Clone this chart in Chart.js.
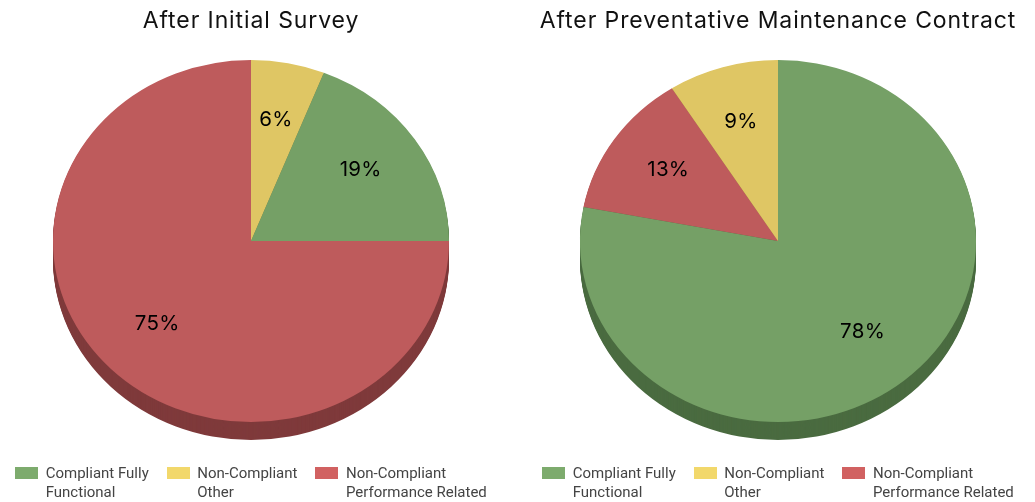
<!DOCTYPE html>
<html><head><meta charset="utf-8">
<script src="https://cdn.jsdelivr.net/npm/chart.js@4.4.1/dist/chart.umd.min.js"></script>
<style>
html,body{margin:0;padding:0;background:#fff;}
#wrap{position:relative;width:1035px;height:502px;overflow:hidden;}
.box{position:absolute;top:0;width:502px;height:502px;}
.legend{position:absolute;left:0;top:463.5px;width:502px;display:flex;justify-content:center;gap:18px;
  font-family:Roboto,sans-serif;font-size:15px;line-height:19.5px;color:#444;}
.item{display:flex;align-items:flex-start;}
.swatch{width:23px;height:12px;margin-top:3px;margin-right:7.5px;flex:none;}
</style></head><body>
<div id="wrap">
<div class="box" style="left:0"><canvas id="c1"></canvas><div class="legend" id="l1"></div></div>
<div class="box" style="left:527px"><canvas id="c2"></canvas><div class="legend" id="l2"></div></div>
</div>
<script>
// ---- data ----
const categories = ['Compliant Fully Functional', 'Non-Compliant Other', 'Non-Compliant Performance Related'];
const legendLines = [['Compliant Fully', 'Functional'], ['Non-Compliant', 'Other'], ['Non-Compliant', 'Performance Related']];
const initialSurvey = [19, 6, 75];
const afterContract = [78, 9, 13];
const chartTitles = ['After Initial Survey', 'After Preventative Maintenance Contract'];

// ---- styles ----
const faceColors = ['#75A066', '#DFC664', '#BE5B5C'];
const sideColors = ['#4A6B40', '#9A8840', '#7F3A3B'];
const legendColors = ['#7DAB6D', '#F2D86B', '#D16161'];

// slices are drawn in reverse category order (clockwise)
const order = [2, 1, 0];

const spacing = {
  id: 'spacing',
  beforeDraw(chart) { chart.ctx.letterSpacing = '0.9px'; },
  afterDraw(chart) { chart.ctx.letterSpacing = '0px'; }
};

const pie3d = {
  id: 'pie3d',
  beforeDatasetsDraw(chart, args, opts) {
    const meta = chart.getDatasetMeta(0);
    const ctx = chart.ctx;
    const a0 = meta.data[0];
    if (!a0) return;
    const cx = a0.x, cy = a0.y, k = opts.tilt;
    ctx.save();
    ctx.translate(0, cy); ctx.scale(1, k); ctx.translate(0, -cy);
    for (let d = opts.depth; d >= 1; d--) {
      meta.data.forEach((arc, i) => {
        const p = arc.getProps(['startAngle', 'endAngle', 'outerRadius'], true);
        ctx.beginPath();
        ctx.moveTo(cx, cy + d / k);
        ctx.arc(cx, cy + d / k, p.outerRadius, p.startAngle, p.endAngle);
        ctx.closePath();
        ctx.fillStyle = sideColors[order[i]];
        ctx.fill();
      });
    }
  },
  afterDatasetsDraw(chart, args, opts) {
    const ctx = chart.ctx;
    ctx.restore();
    const meta = chart.getDatasetMeta(0);
    const data = chart.data.datasets[0].data;
    const total = data.reduce((a, b) => a + b, 0);
    ctx.save();
    ctx.letterSpacing = '0.3px';
    ctx.font = opts.labelFont;
    ctx.fillStyle = '#000';
    ctx.textAlign = 'center';
    ctx.textBaseline = 'middle';
    meta.data.forEach((arc, i) => {
      const p = arc.getProps(['x', 'y', 'startAngle', 'endAngle', 'outerRadius'], true);
      const mid = (p.startAngle + p.endAngle) / 2;
      const r = p.outerRadius * opts.labelRadius;
      ctx.fillText(Math.round(data[i] / total * 100) + '%',
        p.x + Math.cos(mid) * r, p.y + Math.sin(mid) * r * opts.tilt + opts.labelShift);
    });
    ctx.restore();
  }
};

function buildLegend(id) {
  const el = document.getElementById(id);
  categories.forEach((c, i) => {
    const item = document.createElement('div');
    item.className = 'item';
    item.title = c;
    const sw = document.createElement('span');
    sw.className = 'swatch';
    sw.style.background = legendColors[i];
    const tx = document.createElement('span');
    tx.innerHTML = legendLines[i].join('<br>');
    item.appendChild(sw); item.appendChild(tx);
    el.appendChild(item);
  });
}

function makeChart(id, values, title, rotation) {
  return new Chart(document.getElementById(id), {
    type: 'pie',
    data: {
      labels: order.map(i => categories[i]),
      datasets: [{
        data: order.map(i => values[i]),
        backgroundColor: order.map(i => faceColors[i]),
        borderWidth: 0
      }]
    },
    plugins: [spacing, pie3d],
    options: {
      responsive: true,
      maintainAspectRatio: false,
      animation: false,
      rotation: rotation,
      layout: { padding: { top: 0, bottom: 63, left: 0, right: 0 } },
      plugins: {
        tooltip: { enabled: false },
        legend: { display: false },
        pie3d: { tilt: 181 / 198, depth: 18, labelRadius: 0.67, labelShift: -2.5, labelFont: '20.5px Inter' },
        title: {
          display: true,
          text: title,
          color: '#111',
          font: { family: 'Inter', size: 23, weight: 'normal' },
          padding: { top: 7, bottom: 8.4 }
        }
      }
    }
  });
}

makeChart('c1', initialSurvey, chartTitles[0], 90);
makeChart('c2', afterContract, chartTitles[1], 280.8);
buildLegend('l1');
buildLegend('l2');
</script>
</body></html>
